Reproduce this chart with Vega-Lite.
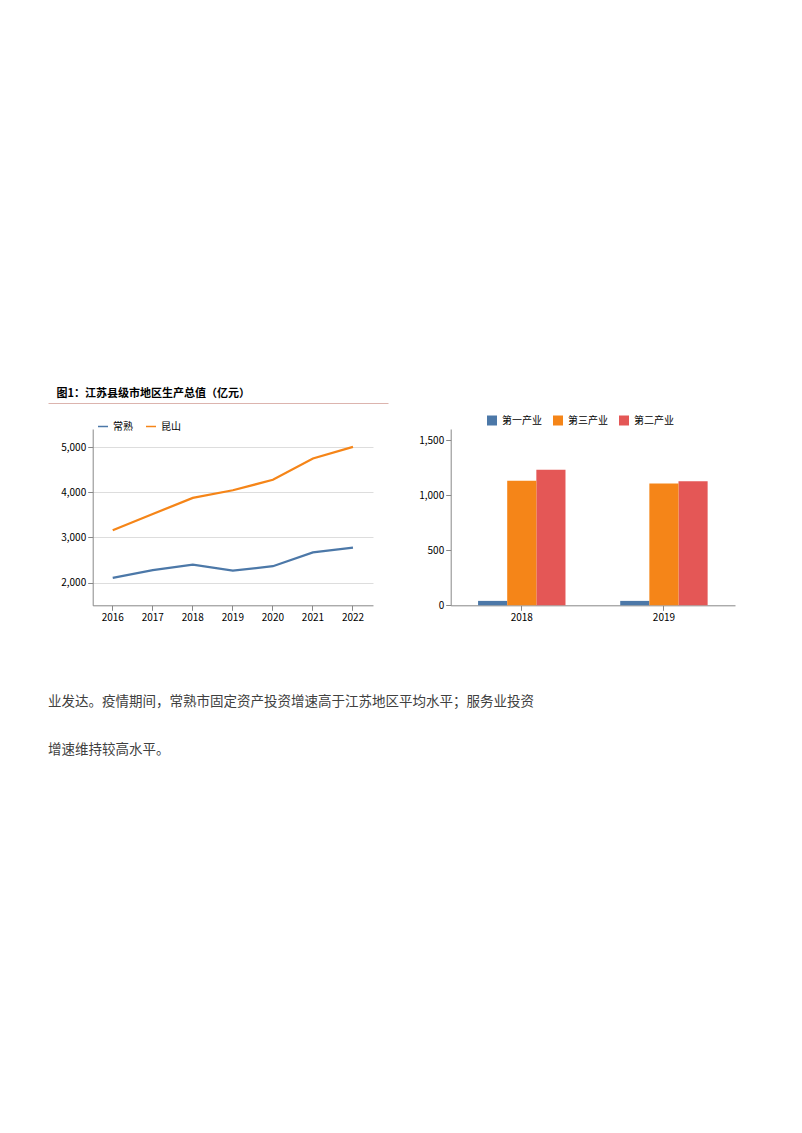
{
  "$schema": "https://vega.github.io/schema/vega-lite/v6.json",
  "background": "white",
  "padding": {"left": 48, "top": 0, "right": 0, "bottom": 0},
  "bounds": "flush",
  "spacing": 0,
  "config": {
    "view": {"stroke": null},
    "font": "Noto Sans CJK SC"
  },
  "vconcat": [
    {"width": 707, "height": 429, "data": {"values": []}, "mark": "text", "encoding": {}},
    {
      "width": 707, "height": 176.3,
      "resolve": {
        "scale": {"x": "independent", "y": "independent", "color": "independent", "xOffset": "independent"},
        "axis": {"x": "independent", "y": "independent"},
        "legend": {"color": "independent"}
      },
      "layer": [
        {
          "data": {"values": [
            {"year": "2016", "city": "常熟", "value": 2105}, {"year": "2017", "city": "常熟", "value": 2280}, {"year": "2018", "city": "常熟", "value": 2400}, {"year": "2019", "city": "常熟", "value": 2265}, {"year": "2020", "city": "常熟", "value": 2365}, {"year": "2021", "city": "常熟", "value": 2670}, {"year": "2022", "city": "常熟", "value": 2774},
            {"year": "2016", "city": "昆山", "value": 3160}, {"year": "2017", "city": "昆山", "value": 3520}, {"year": "2018", "city": "昆山", "value": 3875}, {"year": "2019", "city": "昆山", "value": 4045}, {"year": "2020", "city": "昆山", "value": 4276}, {"year": "2021", "city": "昆山", "value": 4748}, {"year": "2022", "city": "昆山", "value": 5006}
          ]},
          "mark": {"type": "line", "strokeWidth": 2.25},
          "encoding": {
            "x": {"field": "year", "type": "ordinal",
                  "scale": {"type": "band", "range": [44.7, 325], "paddingInner": 0, "paddingOuter": 0},
                  "axis": {"orient": "bottom", "title": null, "labelAngle": 0}},
            "y": {"field": "value", "type": "quantitative",
                  "scale": {"domain": [1500, 5400], "nice": false, "zero": false},
                  "axis": {"orient": "left", "offset": -44.7, "title": null}},
            "color": {"field": "city", "type": "nominal",
                      "legend": {"orient": "none", "legendX": 49, "legendY": -8.5, "direction": "horizontal", "title": null}}
          }
        },
        {
          "data": {"values": [
            {"year": "2018", "sector": "第一产业", "value": 40}, {"year": "2018", "sector": "第二产业", "value": 1230}, {"year": "2018", "sector": "第三产业", "value": 1130},
            {"year": "2019", "sector": "第一产业", "value": 40}, {"year": "2019", "sector": "第二产业", "value": 1125}, {"year": "2019", "sector": "第三产业", "value": 1105}
          ]},
          "mark": {"type": "bar"},
          "encoding": {
            "x": {"field": "year", "type": "ordinal",
                  "scale": {"type": "band", "range": [402.7, 687], "paddingInner": 0.385, "paddingOuter": 0.1925},
                  "axis": {"orient": "bottom", "title": null, "labelAngle": 0}},
            "xOffset": {"field": "sector", "type": "nominal"},
            "y": {"field": "value", "type": "quantitative",
                  "scale": {"domain": [0, 1600], "nice": false},
                  "axis": {"orient": "left", "offset": -402.7, "title": null}},
            "color": {"field": "sector", "type": "nominal",
                      "legend": {"orient": "none", "legendX": 438, "legendY": -14.5, "direction": "horizontal", "title": null}}
          }
        },
        {
          "data": {"values": [{"f": 0}, {"f": 1}]},
          "mark": {"type": "text", "text": " "},
          "encoding": {
            "x": {"field": "f", "type": "quantitative", "scale": {"domain": [0, 1], "range": [0, 340], "nice": false, "zero": false},
                  "axis": {"orient": "top", "offset": 26, "labels": false, "ticks": false, "grid": false, "domainColor": "#dcb4ae",
                           "title": "图1：江苏县级市地区生产总值（亿元）", "titleX": 8, "titleY": -10, "titleAlign": "left", "titleBaseline": "middle"}}
          }
        }
      ]
    },
    {"width": 707, "height": 95.7, "data": {"values": []}, "mark": "text", "encoding": {}},
    {
      "width": 707, "height": 48,
      "layer": [
        {
          "data": {"values": [
            {"line": 2, "t": "业发达。疫情期间，常熟市固定资产投资增速高于江苏地区平均水平；服务业投资"},
            {"line": 3, "t": "增速维持较高水平。"}
          ]},
          "mark": {"type": "text", "align": "left", "baseline": "middle", "color": "#404040", "fontSize": 13.5},
          "encoding": {
            "x": {"datum": 0, "type": "quantitative", "scale": {"domain": [0, 1]}, "axis": null},
            "y": {"field": "line", "type": "ordinal", "scale": {"type": "point", "padding": 0}, "axis": null},
            "text": {"field": "t"}
          }
        }
      ]
    }
  ]
}
